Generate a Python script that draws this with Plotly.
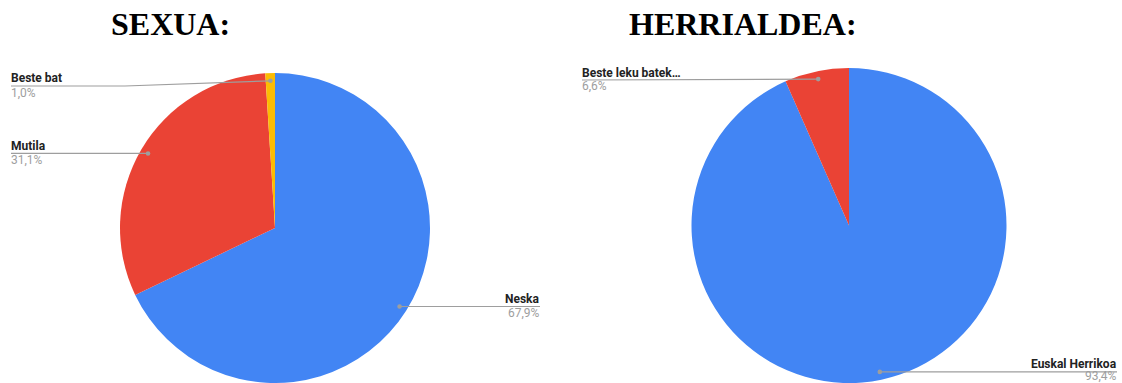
import math
import plotly.graph_objects as go

# ---- data ----
sexua_labels = ["Neska", "Mutila", "Beste bat"]
sexua_values = [67.9, 31.1, 1.0]
sexua_pct = ["67,9%", "31,1%", "1,0%"]

herri_labels = ["Euskal Herrikoa", "Beste leku batek…"]
herri_values = [93.4, 6.6]
herri_pct = ["93,4%", "6,6%"]

colors = ["#4285F4", "#EA4335", "#FBBC04"]

W, H = 1122, 383


def px(x):
    return x / W


def py(y):
    return 1 - y / H


# pie geometry in pixels: centre x, radius (bottom edge sits on the figure edge)
pies = [
    dict(cx=275.0, r=155.0),
    dict(cx=849.0, r=157.5),
]
for p in pies:
    p["cy"] = H - p["r"]

fig = go.Figure()
for p, labels, values in [(pies[0], sexua_labels, sexua_values),
                          (pies[1], herri_labels, herri_values)]:
    fig.add_trace(go.Pie(
        labels=labels,
        values=values,
        sort=False,
        direction="clockwise",
        rotation=0,
        textinfo="none",
        hoverinfo="label+percent",
        marker=dict(colors=colors[:len(values)], line=dict(width=0)),
        domain=dict(x=[px(p["cx"] - p["r"]), px(p["cx"] + p["r"])],
                    y=[0, 2 * p["r"] / H]),
        showlegend=False,
    ))


def slice_dots(p, values, frac=0.95):
    """Mid-angle point of each slice, clockwise from 12 o'clock."""
    total = sum(values)
    acc = 0.0
    pts = []
    for v in values:
        mid = (acc + v / 2) / total * 2 * math.pi
        acc += v
        pts.append((p["cx"] + frac * p["r"] * math.sin(mid),
                    p["cy"] - frac * p["r"] * math.cos(mid)))
    return pts


# label layout: text x, line y, alignment, elbow x, percent offset below line
sexua_layout = [
    dict(x=540, line_y=None, align="right", elbow=None, pct_dy=6.5),
    dict(x=11, line_y=None, align="left", elbow=None, pct_dy=6.5),
    dict(x=11, line_y=86, align="left", elbow=125, pct_dy=6.5),
]
herri_layout = [
    dict(x=1117, line_y=None, align="right", elbow=None, pct_dy=4.5),
    dict(x=582, line_y=80, align="left", elbow=None, pct_dy=6.5),
]

line_color = "#9E9E9E"
shapes = []
annotations = []
label_font = "Roboto, Arial, sans-serif"

for p, labels, pcts, values, lay in [
    (pies[0], sexua_labels, sexua_pct, sexua_values, sexua_layout),
    (pies[1], herri_labels, herri_pct, herri_values, herri_layout),
]:
    dots = slice_dots(p, values)
    for (dx, dy), lab, pct, L in zip(dots, labels, pcts, lay):
        ly = L["line_y"] if L["line_y"] is not None else dy
        pts = [(dx, dy)]
        if L["elbow"] is not None:
            pts.append((L["elbow"], ly))
        pts.append((L["x"], ly))
        path = "M " + " L ".join(f"{px(a)},{py(b)}" for a, b in pts)
        shapes.append(dict(type="path", xref="paper", yref="paper", path=path,
                           line=dict(color=line_color, width=1.2)))
        shapes.append(dict(type="circle", xref="paper", yref="paper",
                           x0=px(dx - 2.3), x1=px(dx + 2.3),
                           y0=py(dy + 2.3), y1=py(dy - 2.3),
                           fillcolor=line_color, line=dict(width=0)))
        anchor = "left" if L["align"] == "left" else "right"
        tx = L["x"] - 2 if anchor == "left" else L["x"] + 2
        annotations.append(dict(
            xref="paper", yref="paper", x=px(tx), y=py(ly - 7.5),
            xanchor=anchor, yanchor="middle", showarrow=False,
            text=f"<b>{lab}</b>",
            font=dict(family=label_font, size=12, color="#222222"),
        ))
        annotations.append(dict(
            xref="paper", yref="paper", x=px(tx), y=py(ly + L["pct_dy"]),
            xanchor=anchor, yanchor="middle", showarrow=False,
            text=pct,
            font=dict(family=label_font, size=12, color="#9E9E9E"),
        ))

# chart titles
for text, cx in [("SEXUA:", 170), ("HERRIALDEA:", 743)]:
    annotations.append(dict(
        xref="paper", yref="paper", x=px(cx), y=py(24),
        xanchor="center", yanchor="middle", showarrow=False,
        text=f"<b>{text}</b>",
        font=dict(family="Liberation Serif, Times New Roman, serif", size=32,
                  color="#000000"),
    ))

fig.update_layout(
    width=W, height=H,
    margin=dict(l=0, r=0, t=0, b=0),
    paper_bgcolor="#FFFFFF",
    plot_bgcolor="#FFFFFF",
    shapes=shapes,
    annotations=annotations,
)

fig.write_html("out.html")
